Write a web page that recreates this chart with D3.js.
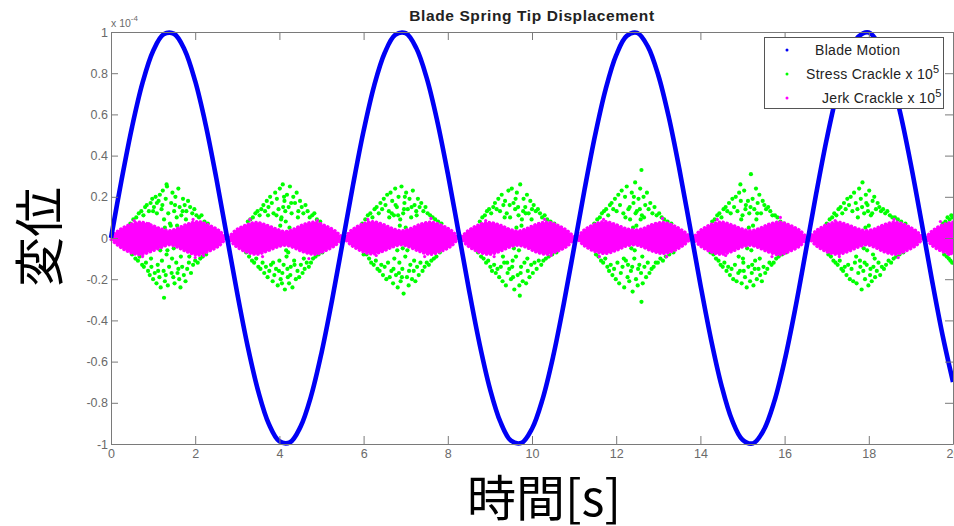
<!DOCTYPE html>
<html>
<head>
<meta charset="utf-8">
<script src="https://cdn.jsdelivr.net/npm/d3@7"></script>
<style>
  body { margin: 0; background: #fff; }
  svg { display: block; }
</style>
</head>
<body>
<div id="chart"></div>
<script>
// axis ticks
const xTicks = [0, 2, 4, 6, 8, 10, 12, 14, 16, 18, 20];
const yTicks = [-1, -0.8, -0.6, -0.4, -0.2, 0, 0.2, 0.4, 0.6, 0.8, 1];
const yTickLabels = ["-1", "-0.8", "-0.6", "-0.4", "-0.2", "0", "0.2", "0.4", "0.6", "0.8", "1"];
const seriesNames = ["Blade Motion", "Stress Crackle x 10", "Jerk Crackle x 10"];

// blade motion (x 1e-4), read every 0.25 s
const bladeStep = 0.25;
const bladeDisp = [
  0, 0.281, 0.539, 0.754, 0.908, 0.989, 0.991, 0.913, 0.761, 0.549, 0.292, 0.011,
  -0.270, -0.529, -0.746, -0.903, -0.987, -0.992, -0.917, -0.769, -0.558, -0.303, -0.023,
  0.259, 0.520, 0.739, 0.898, 0.986, 0.994, 0.922, 0.776, 0.567, 0.313, 0.034,
  -0.248, -0.510, -0.731, -0.893, -0.984, -0.995, -0.926, -0.783, -0.577, -0.324, -0.046,
  0.237, 0.500, 0.723, 0.888, 0.981, 0.996, 0.930, 0.790, 0.586, 0.335, 0.057,
  -0.226, -0.490, -0.715, -0.883, -0.979, -0.997, -0.934, -0.797, -0.595, -0.346, -0.068,
  0.215, 0.480, 0.707, 0.877, 0.977, 0.998, 0.938, 0.804, 0.604, 0.356, 0.080,
  -0.204, -0.470, -0.699
];

// stress crackle points [t, value], one cloud per blade peak
const stressCrackle = [
  // ~1.4 s
  [0.46,0.07],[0.50,-0.08],[0.53,0.09],[0.58,-0.10],[0.60,0.10],[0.64,-0.11],[0.66,0.12],[0.68,-0.09],[0.72,0.13],[0.74,-0.13],
  [0.77,0.11],[0.78,-0.14],[0.81,0.15],[0.83,-0.12],[0.85,0.16],[0.88,-0.16],[0.90,0.13],[0.92,-0.18],[0.94,0.17],[0.96,-0.14],
  [0.98,0.19],[1.00,-0.20],[1.02,0.15],[1.04,-0.17],[1.06,0.20],[1.08,-0.22],[1.09,0.12],[1.11,-0.13],[1.13,0.18],[1.15,-0.19],
  [1.16,0.21],[1.18,-0.24],[1.20,0.14],[1.21,-0.11],[1.23,0.23],[1.25,-0.16],[1.26,0.09],[1.28,-0.21],[1.30,0.19],[1.32,-0.08],
  [1.33,0.25],[1.35,-0.23],[1.36,0.12],[1.38,-0.14],[1.40,0.07],[1.26,-0.29],[1.43,0.17],[1.45,-0.10],[1.46,0.22],[1.48,-0.19],
  [1.50,0.13],[1.51,-0.22],[1.53,0.20],[1.55,-0.12],[1.56,0.10],[1.58,-0.17],[1.60,0.24],[1.62,-0.20],[1.63,0.15],[1.65,-0.24],
  [1.67,0.11],[1.69,-0.14],[1.71,0.19],[1.73,-0.18],[1.75,0.16],[1.77,-0.21],[1.79,0.13],[1.81,-0.15],[1.83,0.18],[1.85,-0.12],
  [1.88,0.15],[1.90,-0.17],[1.93,0.12],[1.95,-0.13],[1.98,0.14],[2.00,-0.11],[2.03,0.11],[2.06,-0.12],[2.09,0.10],[2.12,-0.10],
  [2.15,0.11],[2.18,-0.09],[2.22,0.08],[2.26,-0.08],[2.30,0.07],[1.28,0.05],[1.42,0.06],[1.49,-0.05],[1.34,-0.06],[1.57,0.06],
  [1.17,-0.06],[1.22,0.16],[1.32,0.26],[1.44,-0.17],[1.09,0.17],[1.60,-0.15],[1.12,-0.16],[1.52,0.16],[1.30,-0.18],[1.00,0.13],
  [1.70,0.13],[1.66,-0.09],[0.95,-0.10],[1.78,0.09],[1.86,-0.09],
  // ~4.1 s
  [3.21,-0.07],[3.25,0.08],[3.28,-0.09],[3.31,0.09],[3.35,-0.11],[3.37,0.10],[3.40,-0.12],[3.43,0.12],[3.45,-0.10],[3.48,0.13],
  [3.50,-0.14],[3.53,0.11],[3.55,-0.15],[3.57,0.14],[3.60,-0.12],[3.62,0.16],[3.64,-0.17],[3.66,0.13],[3.68,-0.14],[3.70,0.18],
  [3.72,-0.19],[3.74,0.15],[3.76,-0.16],[3.78,0.20],[3.80,-0.13],[3.82,0.17],[3.84,-0.21],[3.86,0.12],[3.88,-0.18],[3.90,0.22],
  [3.92,-0.15],[3.94,0.19],[3.96,-0.23],[3.98,0.14],[4.00,-0.11],[4.01,0.24],[4.03,-0.20],[4.05,0.10],[4.07,-0.17],[4.08,0.26],
  [4.10,-0.13],[4.12,0.18],[4.13,-0.25],[4.15,0.08],[4.17,-0.09],[4.18,0.21],[4.20,-0.19],[4.22,0.15],[4.23,-0.22],[4.25,0.25],
  [4.27,-0.14],[4.29,0.12],[4.31,-0.24],[4.33,0.20],[4.35,-0.11],[4.37,0.17],[4.39,-0.20],[4.41,0.22],[4.43,-0.16],[4.45,0.13],
  [4.47,-0.19],[4.49,0.18],[4.51,-0.13],[4.53,0.15],[4.55,-0.17],[4.57,0.12],[4.60,-0.15],[4.62,0.16],[4.65,-0.12],[4.67,0.13],
  [4.70,-0.14],[4.72,0.10],[4.75,-0.12],[4.78,0.11],[4.80,-0.10],[4.83,0.12],[4.86,-0.09],[4.89,0.09],[4.93,-0.08],[4.97,0.08],
  [5.02,-0.07],[4.02,0.06],[4.16,-0.06],[4.24,0.05],[4.09,0.15],[4.19,-0.15],[3.99,-0.16],[4.28,0.17],[4.06,-0.22],[3.93,0.11],
  [4.36,-0.13],[4.11,0.20],[4.26,-0.18],[3.85,-0.12],[4.44,0.10],[3.73,0.11],[4.58,-0.10],[4.14,0.13],[4.21,-0.07],[4.04,0.09],
  // ~6.9 s
  [5.97,0.07],[6.00,-0.08],[6.04,0.09],[6.07,-0.08],[6.10,0.11],[6.13,-0.10],[6.16,0.12],[6.18,-0.12],[6.21,0.10],[6.24,-0.13],
  [6.26,0.14],[6.29,-0.11],[6.31,0.15],[6.33,-0.15],[6.36,0.12],[6.38,-0.16],[6.40,0.17],[6.42,-0.13],[6.44,0.14],[6.46,-0.18],
  [6.48,0.19],[6.50,-0.14],[6.52,0.16],[6.54,-0.20],[6.56,0.21],[6.58,-0.12],[6.60,0.13],[6.62,-0.19],[6.64,0.22],[6.66,-0.16],
  [6.68,0.18],[6.70,-0.22],[6.72,0.11],[6.73,-0.10],[6.75,0.24],[6.77,-0.18],[6.79,0.15],[6.81,-0.24],[6.83,0.20],[6.85,-0.12],
  [6.87,0.09],[6.88,-0.21],[6.90,0.25],[6.92,-0.15],[6.94,0.12],[6.95,-0.27],[6.97,0.17],[6.99,-0.09],[7.01,0.22],[7.03,-0.19],
  [7.05,0.14],[7.07,-0.23],[7.09,0.19],[7.11,-0.13],[7.13,0.10],[7.15,-0.20],[7.17,0.23],[7.19,-0.16],[7.21,0.16],[7.23,-0.21],
  [7.25,0.13],[7.27,-0.14],[7.29,0.19],[7.31,-0.18],[7.33,0.15],[7.35,-0.12],[7.37,0.17],[7.40,-0.16],[7.42,0.13],[7.45,-0.14],
  [7.47,0.15],[7.50,-0.12],[7.52,0.12],[7.55,-0.13],[7.58,0.11],[7.61,-0.11],[7.64,0.10],[7.67,-0.10],[7.70,0.09],[7.73,-0.09],
  [7.77,0.08],[7.81,-0.07],[7.85,0.07],[6.86,0.06],[6.93,-0.05],[7.00,0.05],[6.80,-0.06],[7.04,-0.06],[6.76,0.16],[6.98,0.20],
  [7.08,-0.16],[6.84,-0.17],[6.67,0.12],[7.14,0.15],[6.71,-0.15],[7.20,-0.11],[6.61,0.10],[7.26,0.11],[6.91,-0.19],[6.96,0.14],
  [6.82,0.11],
  // ~9.7 s
  [8.72,-0.07],[8.76,0.08],[8.79,-0.09],[8.82,0.10],[8.85,-0.10],[8.88,0.11],[8.91,-0.12],[8.93,0.13],[8.96,-0.11],[8.98,0.14],
  [9.01,-0.14],[9.03,0.12],[9.05,-0.16],[9.08,0.15],[9.10,-0.13],[9.12,0.17],[9.14,-0.17],[9.16,0.14],[9.18,-0.15],[9.20,0.19],
  [9.22,-0.19],[9.24,0.13],[9.26,-0.14],[9.28,0.21],[9.30,-0.21],[9.32,0.16],[9.34,-0.12],[9.36,0.18],[9.38,-0.23],[9.40,0.12],
  [9.42,-0.17],[9.44,0.23],[9.46,-0.15],[9.48,0.10],[9.50,-0.20],[9.52,0.24],[9.54,-0.11],[9.56,0.17],[9.58,-0.25],[9.60,0.14],
  [9.62,-0.09],[9.64,0.22],[9.66,-0.18],[9.68,0.11],[9.70,-0.23],[9.72,0.26],[9.74,-0.14],[9.76,0.09],[9.78,-0.21],[9.80,0.19],
  [9.82,-0.12],[9.84,0.15],[9.86,-0.22],[9.88,0.21],[9.90,-0.16],[9.92,0.12],[9.94,-0.19],[9.96,0.18],[9.98,-0.13],[10.00,0.14],
  [10.02,-0.17],[10.04,0.16],[10.06,-0.12],[10.09,0.13],[10.11,-0.15],[10.14,0.14],[10.16,-0.11],[10.19,0.12],[10.22,-0.13],[10.24,0.10],
  [10.27,-0.11],[10.30,0.11],[10.33,-0.10],[10.36,0.09],[10.40,-0.09],[10.44,0.08],[10.48,-0.08],[10.53,0.07],[10.58,-0.07],[9.63,0.05],
  [9.69,-0.06],[9.57,-0.05],[9.75,0.06],[9.47,0.16],[9.61,0.19],[9.73,-0.17],[9.55,-0.19],[9.85,0.12],[9.41,-0.12],[9.89,-0.10],
  [9.35,0.10],[9.67,0.15],[9.79,0.13],[9.53,-0.14],[9.99,0.09],[9.31,-0.09],[9.71,-0.28],
  // ~12.4 s
  [11.48,0.07],[11.52,-0.08],[11.55,0.09],[11.58,-0.09],[11.61,0.10],[11.64,-0.11],[11.66,0.12],[11.69,-0.12],[11.71,0.13],[11.74,-0.10],
  [11.76,0.14],[11.79,-0.14],[11.81,0.11],[11.83,-0.16],[11.85,0.16],[11.87,-0.13],[11.89,0.17],[11.91,-0.18],[11.93,0.14],[11.95,-0.15],
  [11.97,0.19],[11.99,-0.20],[12.01,0.13],[12.03,-0.12],[12.05,0.21],[12.07,-0.22],[12.09,0.16],[12.11,-0.17],[12.13,0.23],[12.15,-0.14],
  [12.17,0.12],[12.19,-0.24],[12.21,0.20],[12.23,-0.11],[12.25,0.25],[12.27,-0.19],[12.29,0.14],[12.31,-0.21],[12.33,0.09],[12.35,-0.16],
  [12.37,0.22],[12.39,-0.26],[12.41,0.17],[12.43,-0.10],[12.45,0.27],[12.47,-0.20],[12.49,0.13],[12.51,-0.23],[12.53,0.19],[12.55,-0.13],
  [12.57,0.24],[12.59,-0.17],[12.61,0.11],[12.63,-0.22],[12.65,0.20],[12.67,-0.14],[12.69,0.16],[12.71,-0.19],[12.73,0.22],[12.75,-0.12],
  [12.77,0.14],[12.79,-0.17],[12.81,0.17],[12.84,-0.15],[12.86,0.12],[12.89,-0.14],[12.91,0.15],[12.94,-0.12],[12.96,0.11],[12.99,-0.12],
  [13.02,0.12],[13.05,-0.10],[13.08,0.10],[13.11,-0.11],[13.14,0.09],[13.18,-0.09],[13.22,0.08],[13.26,-0.08],[13.31,0.07],[13.36,-0.07],
  [12.40,0.05],[12.44,-0.06],[12.48,0.06],[12.36,-0.05],[12.32,0.15],[12.52,-0.15],[12.46,0.12],[12.28,-0.13],[12.58,0.09],[12.22,0.10],
  [12.62,-0.09],[12.42,0.20],[12.38,-0.14],[12.56,0.14],[12.18,-0.10],[12.66,0.10],[12.60,-0.31],[12.60,0.33],
  // ~15.2 s
  [14.24,-0.07],[14.28,0.08],[14.31,-0.08],[14.34,0.09],[14.37,-0.10],[14.40,0.11],[14.43,-0.11],[14.45,0.12],[14.48,-0.13],[14.50,0.10],
  [14.53,-0.14],[14.55,0.14],[14.57,-0.12],[14.60,0.15],[14.62,-0.16],[14.64,0.13],[14.66,-0.14],[14.68,0.17],[14.70,-0.18],[14.72,0.12],
  [14.74,-0.15],[14.76,0.19],[14.78,-0.20],[14.80,0.15],[14.82,-0.13],[14.84,0.20],[14.86,-0.21],[14.88,0.13],[14.90,-0.17],[14.92,0.22],
  [14.94,-0.16],[14.96,0.18],[14.98,-0.22],[15.00,0.11],[15.02,-0.12],[15.04,0.23],[15.06,-0.19],[15.08,0.16],[15.10,-0.24],[14.95,0.26],
  [15.14,-0.14],[15.16,0.12],[15.18,-0.21],[15.20,0.31],[15.22,-0.17],[15.24,0.19],[15.26,-0.23],[15.28,0.14],[15.30,-0.11],[15.32,0.24],
  [15.34,-0.20],[15.36,0.17],[15.38,-0.15],[15.40,0.21],[15.42,-0.18],[15.44,0.12],[15.46,-0.21],[15.48,0.18],[15.50,-0.14],[15.52,0.16],
  [15.54,-0.17],[15.56,0.14],[15.59,-0.15],[15.61,0.15],[15.64,-0.12],[15.66,0.13],[15.69,-0.13],[15.71,0.11],[15.74,-0.12],[15.77,0.11],
  [15.80,-0.10],[15.83,0.10],[15.86,-0.09],[15.90,0.08],[15.94,-0.08],[15.99,0.07],[16.04,-0.07],[15.15,0.05],[15.21,-0.06],[15.25,0.06],
  [15.11,-0.05],[15.07,0.14],[15.29,-0.15],[15.19,0.15],[15.03,-0.16],[15.35,0.12],[14.97,0.09],[15.41,-0.10],[15.13,0.18],[15.23,-0.13],
  [15.01,-0.10],[15.33,0.09],[14.91,-0.09],
  // ~17.9 s
  [17.00,0.07],[17.04,-0.08],[17.07,0.09],[17.10,-0.09],[17.13,0.10],[17.16,-0.11],[17.18,0.12],[17.21,-0.12],[17.23,0.11],[17.26,-0.13],
  [17.28,0.14],[17.31,-0.11],[17.33,0.15],[17.35,-0.15],[17.37,0.12],[17.39,-0.16],[17.41,0.17],[17.43,-0.14],[17.45,0.14],[17.47,-0.18],
  [17.49,0.19],[17.51,-0.13],[17.53,0.16],[17.55,-0.20],[17.57,0.20],[17.59,-0.15],[17.61,0.13],[17.63,-0.21],[17.65,0.22],[17.67,-0.12],
  [17.69,0.17],[17.71,-0.22],[17.73,0.14],[17.75,-0.17],[17.77,0.24],[17.79,-0.11],[17.81,0.19],[17.83,-0.25],[17.85,0.27],[17.87,-0.16],
  [17.89,0.12],[17.91,-0.20],[17.93,0.21],[17.95,-0.13],[17.97,0.16],[17.99,-0.23],[18.01,0.23],[18.03,-0.18],[18.05,0.11],[18.07,-0.21],
  [18.09,0.18],[18.11,-0.14],[18.13,0.20],[18.15,-0.19],[18.17,0.14],[18.19,-0.16],[18.21,0.17],[18.23,-0.12],[18.25,0.15],[18.27,-0.18],
  [18.29,0.13],[18.31,-0.14],[18.34,0.14],[18.36,-0.15],[18.39,0.12],[18.41,-0.13],[18.44,0.13],[18.47,-0.11],[18.50,0.11],[18.53,-0.12],
  [18.56,0.10],[18.59,-0.10],[18.62,0.10],[18.65,-0.09],[18.69,0.09],[18.73,-0.08],[18.77,0.08],[18.82,-0.07],[18.87,0.07],[17.92,0.05],
  [17.96,-0.06],[18.00,0.06],[17.88,-0.05],[17.84,0.15],[18.04,-0.15],[17.94,0.17],[17.80,-0.14],[18.08,0.12],[17.74,0.10],[18.14,-0.10],
  [17.98,0.13],[17.90,-0.12],[18.10,-0.08],[17.70,-0.09],
  // start of the next cloud at the right edge
  [19.76,0.07],[19.79,-0.08],[19.82,0.08],[19.85,-0.09],[19.87,0.10],[19.90,-0.10],[19.92,0.09],[19.94,-0.11],[19.96,0.11],[19.98,-0.12],
  [19.99,0.10],[19.89,0.07],[19.93,-0.07]
];

// jerk crackle band [t, upper, lower]
const jerkBand = [
  [0,0.008,-0.008],[0.2,0.040,-0.042],[0.45,0.066,-0.070],[0.69,0.078,-0.082],[0.95,0.064,-0.066],[1.2,0.044,-0.046],
  [1.38,0.036,-0.034],[1.56,0.046,-0.044],[1.81,0.068,-0.068],[2.07,0.080,-0.084],[2.31,0.064,-0.066],[2.56,0.038,-0.040],
  [2.76,0.006,-0.006],[2.96,0.038,-0.040],[3.21,0.064,-0.068],[3.45,0.076,-0.080],[3.71,0.062,-0.064],[3.96,0.042,-0.044],
  [4.14,0.032,-0.036],[4.32,0.042,-0.046],[4.57,0.066,-0.068],[4.83,0.078,-0.080],[5.07,0.062,-0.064],[5.32,0.036,-0.038],
  [5.52,0.007,-0.007],[5.72,0.040,-0.038],[5.97,0.068,-0.066],[6.21,0.080,-0.078],[6.47,0.066,-0.064],[6.72,0.044,-0.042],
  [6.9,0.036,-0.034],[7.08,0.044,-0.044],[7.33,0.066,-0.066],[7.59,0.078,-0.080],[7.83,0.064,-0.066],[8.08,0.038,-0.040],
  [8.28,0.006,-0.006],[8.48,0.036,-0.040],[8.73,0.064,-0.068],[8.97,0.076,-0.080],[9.23,0.064,-0.066],[9.48,0.042,-0.044],
  [9.66,0.034,-0.036],[9.84,0.044,-0.044],[10.09,0.066,-0.068],[10.35,0.078,-0.080],[10.59,0.064,-0.066],[10.84,0.036,-0.040],
  [11.04,0.006,-0.006],[11.24,0.040,-0.038],[11.49,0.068,-0.066],[11.73,0.080,-0.076],[11.99,0.066,-0.062],[12.24,0.046,-0.040],
  [12.42,0.040,-0.034],[12.6,0.044,-0.042],[12.85,0.066,-0.064],[13.11,0.076,-0.076],[13.35,0.062,-0.064],[13.6,0.034,-0.036],
  [13.8,0.006,-0.006],[14.0,0.038,-0.040],[14.25,0.066,-0.068],[14.49,0.078,-0.080],[14.75,0.064,-0.066],[15.0,0.044,-0.044],
  [15.18,0.036,-0.036],[15.36,0.044,-0.046],[15.61,0.066,-0.068],[15.87,0.078,-0.082],[16.11,0.064,-0.066],[16.36,0.038,-0.040],
  [16.56,0.006,-0.006],[16.76,0.038,-0.040],[17.01,0.066,-0.068],[17.25,0.078,-0.080],[17.51,0.064,-0.066],[17.76,0.044,-0.044],
  [17.94,0.036,-0.034],[18.12,0.044,-0.044],[18.37,0.066,-0.068],[18.63,0.078,-0.080],[18.87,0.064,-0.064],[19.12,0.036,-0.038],
  [19.32,0.006,-0.006],[19.52,0.038,-0.040],[19.77,0.066,-0.068],[20.0,0.078,-0.078]
];

// loose jerk points sitting just outside the band
const jerkOutliers = [
  [0.55,0.085],[0.75,-0.09],[0.90,0.07],[1.95,0.09],[2.20,-0.085],[2.00,-0.095],[3.30,0.09],[3.60,-0.09],
  [4.90,0.085],[4.70,-0.10],[6.10,0.09],[6.30,-0.085],[7.60,0.095],[7.45,-0.09],[8.90,0.085],[9.10,-0.09],
  [10.30,0.09],[10.45,-0.085],[11.70,0.09],[11.60,-0.09],[13.10,0.095],[13.20,-0.09],[14.40,0.09],[14.60,-0.085],
  [15.90,0.10],[15.70,-0.09],[17.20,0.085],[17.30,-0.09],[18.60,0.09],[18.70,-0.095],[19.70,0.08],[19.90,-0.08]
];

let width = 954, height = 526;
let plot = { left: 111, right: 953, top: 32, bottom: 444 };
let axisColor = "#7a7a7a", labelColor = "#6a6a6a";
let sans = '"Liberation Sans", Arial, Helvetica, sans-serif';
let cjk = '"Noto Sans CJK JP", "Noto Sans CJK SC", sans-serif';

let x = d3.scaleLinear().domain([0, 20]).range([plot.left, plot.right]);
let y = d3.scaleLinear().domain([-1, 1]).range([plot.bottom, plot.top]);

let svg = d3.select("#chart").append("svg")
    .attr("width", width)
    .attr("height", height);

// stress crackle (green dots)
svg.append("g").selectAll("circle")
    .data(stressCrackle)
    .join("circle")
    .attr("cx", d => x(d[0]))
    .attr("cy", d => y(d[1]))
    .attr("r", 2.1)
    .attr("fill", "#00ff00");

// jerk crackle (magenta band)
let band = d3.area()
    .x(d => x(d[0]))
    .y0(d => y(d[2]))
    .y1(d => y(d[1]))
    .curve(d3.curveMonotoneX);

svg.append("path")
    .datum(jerkBand)
    .attr("d", band)
    .attr("fill", "#ff00ff");

// fuzzy edges of the band
[1, 2].forEach(k => {
    svg.append("path")
        .datum(jerkBand)
        .attr("d", d3.line().x(d => x(d[0])).y(d => y(d[k])).curve(d3.curveMonotoneX))
        .attr("fill", "none")
        .attr("stroke", "#ff00ff")
        .attr("stroke-width", 3)
        .attr("stroke-linecap", "round")
        .attr("stroke-dasharray", "0.5 3.5");
});

svg.append("g").selectAll("circle")
    .data(jerkOutliers)
    .join("circle")
    .attr("cx", d => x(d[0]))
    .attr("cy", d => y(d[1]))
    .attr("r", 1.6)
    .attr("fill", "#ff00ff");

// blade motion (thick blue line of dots)
svg.append("path")
    .datum(bladeDisp)
    .attr("d", d3.line().x((d, i) => x(i * bladeStep)).y(d => y(d)).curve(d3.curveCatmullRom))
    .attr("fill", "none")
    .attr("stroke", "#0000f5")
    .attr("stroke-width", 4.6);

// ****************** Axes ***************************
function styleAxis(g) {
    g.selectAll("path, line").attr("stroke", axisColor);
    g.selectAll("text")
        .attr("fill", labelColor)
        .style("font-family", sans)
        .style("font-size", "12.5px");
}

svg.append("g")
    .attr("transform", `translate(0,${plot.bottom})`)
    .call(d3.axisBottom(x).tickValues(xTicks).tickSizeInner(-8).tickSizeOuter(0).tickPadding(5))
    .call(styleAxis);

svg.append("g")
    .attr("transform", `translate(0,${plot.top})`)
    .call(d3.axisTop(x).tickValues(xTicks).tickSizeInner(-8).tickSizeOuter(0).tickFormat(""))
    .call(styleAxis);

svg.append("g")
    .attr("transform", `translate(${plot.left},0)`)
    .call(d3.axisLeft(y).tickValues(yTicks).tickSizeInner(-7).tickSizeOuter(0).tickPadding(3)
        .tickFormat((d, i) => yTickLabels[i]))
    .call(styleAxis);

svg.append("g")
    .attr("transform", `translate(${plot.right},0)`)
    .call(d3.axisRight(y).tickValues(yTicks).tickSizeInner(-8).tickSizeOuter(0).tickFormat(""))
    .call(styleAxis);

// exponent note above the y axis
let expo = svg.append("text")
    .attr("x", plot.left)
    .attr("y", 27)
    .attr("fill", labelColor)
    .style("font-family", sans)
    .style("font-size", "10.5px")
    .text("x 10");
expo.append("tspan").attr("dy", -6).style("font-size", "8px").text("-4");

// title
svg.append("text")
    .attr("x", (plot.left + plot.right) / 2)
    .attr("y", 21)
    .attr("text-anchor", "middle")
    .attr("fill", "#222")
    .style("font-family", sans)
    .style("font-size", "15.5px")
    .style("font-weight", "bold")
    .style("letter-spacing", "0.6px")
    .text("Blade Spring Tip Displacement");

// ****************** Legend ***************************
let legend = svg.append("g");
legend.append("rect")
    .attr("x", 764.5).attr("y", 37.5)
    .attr("width", 179).attr("height", 71)
    .attr("fill", "#fff")
    .attr("stroke", "#555");

let legendColors = ["#0000f5", "#00ff00", "#ff00ff"];
let legendTextX = [815, 806, 822];
seriesNames.forEach((name, i) => {
    let cy = 50 + i * 24;
    legend.append("circle")
        .attr("cx", 787).attr("cy", cy).attr("r", 1.5)
        .attr("fill", legendColors[i]);
    let t = legend.append("text")
        .attr("x", legendTextX[i])
        .attr("y", cy + 5)
        .attr("fill", "#222")
        .style("font-family", sans)
        .style("font-size", "14px")
        .style("letter-spacing", "0.3px")
        .text(name);
    if (i > 0) t.append("tspan").attr("dy", -6).style("font-size", "11px").text("5");
});

// axis labels
svg.append("text")
    .attr("transform", "translate(58,237) rotate(-90)")
    .attr("text-anchor", "middle")
    .attr("fill", "#000")
    .style("font-family", cjk)
    .style("font-size", "50px")
    .text("変位");

svg.append("text")
    .attr("x", 544)
    .attr("y", 516)
    .attr("text-anchor", "middle")
    .attr("fill", "#000")
    .style("font-family", cjk)
    .style("font-size", "49px")
    .text("時間[s]");
</script>
</body>
</html>
